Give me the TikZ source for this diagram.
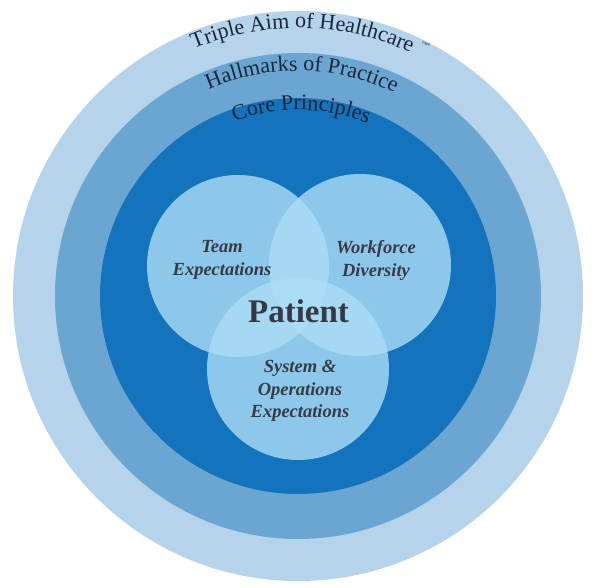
\documentclass[tikz,border=0pt]{standalone}
\usepackage{fontspec}
\setmainfont{Liberation Serif}
\usetikzlibrary{decorations.text}
\definecolor{ringA}{RGB}{181,211,234}
\definecolor{ringB}{RGB}{107,166,211}
\definecolor{ringC}{RGB}{19,115,188}
\definecolor{venn}{RGB}{172,221,246}
\definecolor{ringtxt}{RGB}{28,38,58}
\definecolor{venntxt}{RGB}{55,58,70}
\begin{document}
\begin{tikzpicture}[x=1pt,y=1pt,
  disc/.style={circle, inner sep=0pt, draw=none},
  vennc/.style={disc, fill=venn, fill opacity=0.8, minimum size=182pt},
  lab/.style={align=center, text=venntxt, inner sep=0pt,
    font=\fontsize{18.5}{23}\selectfont\bfseries\itshape},
  ringlabel/.style={decorate, decoration={text along path, text align=center,
    text={|\color{ringtxt}\fontsize{22}{22}\selectfont|#1}}}
  ]
\useasboundingbox (0,0) rectangle (600,588);
\coordinate (C) at (298,292);
\node[disc, fill=ringA, minimum size=570pt] (outer) at (C) {};
\node[disc, fill=ringB, minimum size=486pt] (middle) at (C) {};
\node[disc, fill=ringC, minimum size=396pt] (core) at (C) {};
\node[vennc] (team) at (238,322) {};
\node[vennc] (work) at (360,323) {};
\node[vennc] (sys) at (298,219) {};
\path[ringlabel={Triple Aim of Healthcare}] ([shift={(157:268)}]C) arc[start angle=157, end angle=21, radius=268];
\path[ringlabel={Hallmarks of Practice}] ([shift={(154:225)}]C) arc[start angle=154, end angle=24, radius=225];
\path[ringlabel={Core Principles}] ([shift={(149:186)}]C) arc[start angle=149, end angle=29, radius=186];
\node[text=ringtxt, font=\fontsize{4}{4}\selectfont, rotate=-24] (tm) at (426,544) {TM®};
\node[lab] (teamtxt) at (222,328) {Team\\Expectations};
\node[lab] (worktxt) at (376,328) {Workforce\\Diversity};
\node[lab, font=\fontsize{18.5}{22.5}\selectfont\bfseries\itshape] (systxt) at (300,197) {System \&\\Operations\\Expectations};
\node[text=venntxt, inner sep=0pt, font=\fontsize{33}{33}\selectfont\bfseries] (patient) at (298.5,277) {Patient};
\end{tikzpicture}
\end{document}
